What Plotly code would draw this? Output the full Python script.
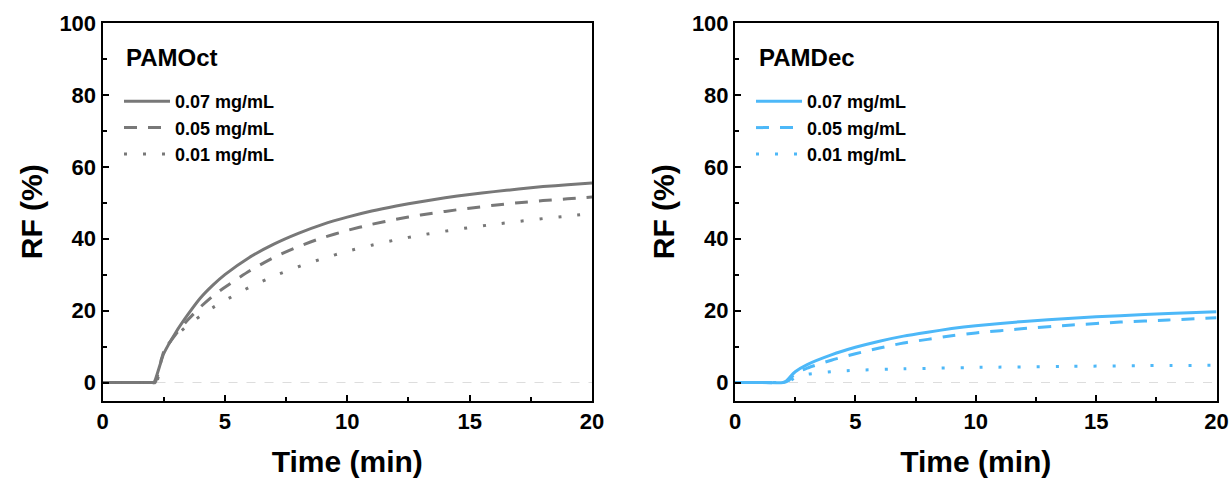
import plotly.graph_objects as go
import numpy as np

# ---- data ----
oct_07_x = [0, 1, 2, 2.1, 2.5, 3, 3.5, 4, 4.5, 5, 6, 7, 8, 9, 10, 11, 12, 13, 14, 15, 16, 17, 18, 19, 20]
oct_07_y = [0, 0, 0, 0, 8, 14, 19, 23.5, 27, 30, 34.8, 38.5, 41.5, 44, 46, 47.7, 49.1, 50.3, 51.4, 52.3, 53.1, 53.8, 54.5, 55, 55.5]
oct_05_x = [0, 1, 2, 2.15, 2.5, 3, 3.5, 4, 4.5, 5, 6, 7, 8, 9, 10, 11, 12, 13, 14, 15, 16, 17, 18, 19, 20]
oct_05_y = [0, 0, 0, 0, 8.5, 13.5, 17.5, 21, 24, 26.5, 31, 34.8, 37.8, 40.3, 42.3, 44, 45.4, 46.6, 47.6, 48.5, 49.3, 50, 50.6, 51.1, 51.6]
oct_01_x = [0, 1, 2, 2.2, 2.5, 3, 3.5, 4, 4.5, 5, 6, 7, 8, 9, 10, 11, 12, 13, 14, 15, 16, 17, 18, 19, 20]
oct_01_y = [0, 0, 0, 0, 9, 13, 16, 18.5, 20.8, 22.8, 26.5, 29.6, 32.2, 34.5, 36.5, 38.2, 39.7, 41, 42.1, 43.1, 44, 44.8, 45.6, 46.3, 47]

dec_07_x = [0, 1, 2, 2.1, 2.5, 3, 4, 5, 6, 7, 8, 9, 10, 12, 14, 16, 18, 20]
dec_07_y = [0, 0, 0, 0.3, 3, 5, 7.7, 9.8, 11.5, 12.9, 14, 15, 15.8, 17, 17.9, 18.6, 19.2, 19.7]
dec_05_x = [0, 1, 2, 2.2, 2.5, 3, 4, 5, 6, 7, 8, 9, 10, 12, 14, 16, 18, 20]
dec_05_y = [0, 0, 0, 0.4, 2.5, 4, 6.2, 8, 9.6, 11, 12, 13, 13.8, 15, 16, 16.8, 17.4, 18]
dec_01_x = [0, 1, 2, 2.2, 2.5, 3, 4, 5, 7, 10, 14, 17, 20]
dec_01_y = [0, 0, 0, 0, 1.5, 2.3, 3, 3.4, 3.8, 4.2, 4.5, 4.7, 4.8]

labels = ["0.07 mg/mL", "0.05 mg/mL", "0.01 mg/mL"]
titles = ["PAMOct", "PAMDec"]
gray = "#787878"
blue = "#4DB8F8"
dashes = ["solid", "13px,11px", "3px,16px"]

FONT = "Arial, Liberation Sans, sans-serif"

# body margin is removed by post_script, so figure coords == page coords
W, H, OFF = 1230, 478, 0
def px(x):
    return (x - OFF) / W
def py(y):
    return 1 - (y - OFF) / H

fig = go.Figure()

series = [
    (oct_07_x, oct_07_y, 0, 0), (oct_05_x, oct_05_y, 0, 1), (oct_01_x, oct_01_y, 0, 2),
    (dec_07_x, dec_07_y, 1, 0), (dec_05_x, dec_05_y, 1, 1), (dec_01_x, dec_01_y, 1, 2),
]
for xs, ys, p, k in series:
    fig.add_trace(go.Scatter(
        x=xs, y=ys, mode="lines",
        line=dict(color=gray if p == 0 else blue, width=3, dash=dashes[k], shape="spline", smoothing=0.6),
        name=labels[k],
        xaxis="x" if p == 0 else "x2", yaxis="y" if p == 0 else "y2",
        legend="legend" if p == 0 else "legend2",
    ))

ydom = [py(400.5), py(23)]
axis_common = dict(
    showline=True, linewidth=2, linecolor="black", mirror=True,
    ticks="inside", ticklen=6, tickwidth=2, tickcolor="black",
    showgrid=False, zeroline=False, automargin=False,
    tickfont=dict(family=FONT, size=22, color="black", weight="bold"),
)
xcommon = dict(axis_common, range=[0, 20], dtick=5, tick0=0,
               minor=dict(ticks="inside", ticklen=4, tickwidth=1.5, dtick=2.5, tickcolor="black"),
               title=dict(text="<b>Time (min)</b>", font=dict(family=FONT, size=30, color="black"), standoff=19))
ycommon = dict(axis_common, range=[-5, 100], dtick=20, tick0=0,
               minor=dict(ticks="inside", ticklen=4, tickwidth=1.5, dtick=10, tickcolor="black"),
               title=dict(text="<b>RF (%)</b>", font=dict(family=FONT, size=30, color="black"), standoff=8))

fig.update_layout(
    width=W, height=H,
    paper_bgcolor="white", plot_bgcolor="white",
    margin=dict(l=0, r=0, t=0, b=0),
    xaxis=dict(xcommon, domain=[px(102.5), px(592)], anchor="y"),
    yaxis=dict(ycommon, domain=ydom, anchor="x"),
    xaxis2=dict(xcommon, domain=[px(735), px(1216.5)], anchor="y2"),
    yaxis2=dict(ycommon, domain=ydom, anchor="x2"),
    showlegend=True,
    legend=dict(x=px(119), y=py(83), xanchor="left", yanchor="top", bgcolor="rgba(0,0,0,0)",
                font=dict(family=FONT, size=18, color="black", weight="bold"),
                tracegroupgap=0, itemwidth=46),
    legend2=dict(x=px(751), y=py(83), xanchor="left", yanchor="top", bgcolor="rgba(0,0,0,0)",
                 font=dict(family=FONT, size=18, color="black", weight="bold"),
                 tracegroupgap=0, itemwidth=46),
)

for i, tx in enumerate([124, 757]):
    fig.add_annotation(text="<b>" + titles[i] + "</b>", xref="paper", yref="paper",
                       x=px(tx), y=py(57), xanchor="left", yanchor="middle", showarrow=False,
                       font=dict(family=FONT, size=24, color="black"))
for xr, yr in [("x", "y"), ("x2", "y2")]:
    fig.add_shape(type="line", xref=xr + " domain", yref=yr, x0=0, x1=1, y0=0, y1=0,
                  line=dict(color="#dddddd", width=1, dash="dash"), layer="below")

fig.write_html("out.html", config={"displayModeBar": False},
               post_script="document.body.style.margin='0';document.body.style.overflow='hidden';")
